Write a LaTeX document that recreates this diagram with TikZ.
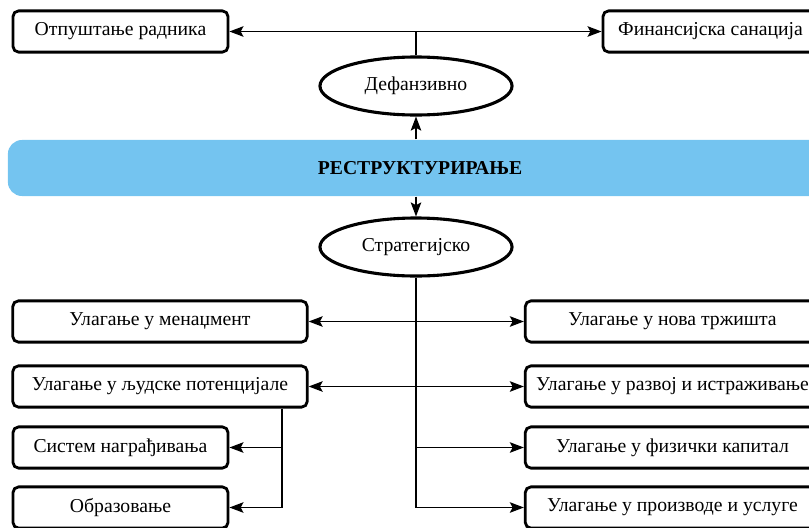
\documentclass[tikz,border=0pt]{standalone}
\usepackage{fontspec}
\setmainfont{Liberation Serif}
\usetikzlibrary{arrows,arrows.meta,shapes,backgrounds}
\definecolor{bannerblue}{RGB}{116,196,240}

\begin{document}
\begin{tikzpicture}[x=0.025cm,y=-0.025cm,>={Stealth[length=10pt,width=7.5pt,inset=2pt]},line width=0.9pt,
                    box node/.style={draw,rounded corners=4pt,line width=2pt,inner sep=0pt,
                      minimum height=1.03cm,font=\fontsize{14}{16}\selectfont},
                    wide box/.style={box node,minimum width=7.36cm},
                    short box/.style={box node,minimum width=5.375cm},
                    oval node/.style={ellipse,draw,line width=2.2pt,minimum width=4.8cm,
                      minimum height=1.45cm,font=\fontsize{14}{16}\selectfont}]
  \useasboundingbox (0,0) rectangle (809,527);

  % defanzivno
  \node[short box] (radnici) at (120.5,31.5) {Отпуштање радника};
  \node[short box] (sanacija) at (710.5,31.5) {Финансијска санација};
  \node[oval node] (defanz) at (416,86) {Дефанзивно};

  \node[fill=bannerblue,rounded corners=10pt,minimum width=20.6cm,minimum height=1.4cm,
        font=\fontsize{14}{16}\selectfont\bfseries] (restr) at (420,168) {РЕСТРУКТУРИРАЊЕ};

  % strategijsko
  \node[oval node] (strat) at (416,247) {Стратегијско};
  \node[wide box] (menadzment) at (160,321.5) {Улагање у менаџмент};
  \node[wide box] (ljudski) at (160,386.5) {Улагање у људске потенцијале};
  \node[short box] (sistem) at (120.5,447.5) {Систем награђивања};
  \node[short box] (obrazovanje) at (120.5,507.5) {Образовање};
  \node[wide box] (trziste) at (672.5,321.5) {Улагање у нова тржишта};
  \node[wide box] (razvoj) at (672.5,386.5) {Улагање у развој и истраживање};
  \node[wide box] (kapital) at (672.5,447.5) {Улагање у физички капитал};
  \node[wide box] (proizvodi) at (672.5,507.5) {Улагање у производе и услуге};
  \coordinate (grana) at (282,386.5);

  \draw[<->] (radnici.east) -- (sanacija.west);
  \draw (defanz.north) -- (defanz.north |- radnici.east);
  \draw[->] (defanz.south |- restr.north) -- (defanz.south);
  \draw[->] (strat.north |- restr.south) -- (strat.north);

  \draw[->] (strat.south) |- (proizvodi.west);
  \draw[<->] (menadzment.east) -- (trziste.west);
  \draw[<->] (ljudski.east) -- (razvoj.west);
  \draw[->] (strat.south |- kapital.west) -- (kapital.west);

  \draw[->] (grana |- ljudski.south) |- (obrazovanje.east);
  \draw[->] (grana |- sistem.east) -- (sistem.east);
\end{tikzpicture}
\end{document}
